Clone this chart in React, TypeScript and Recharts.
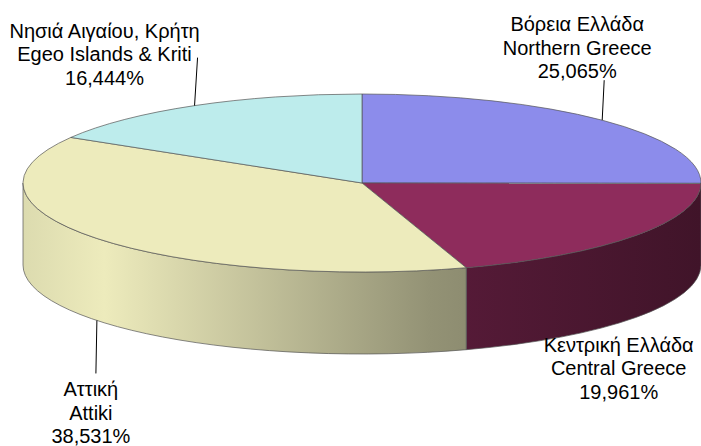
import { PieChart, Pie, Cell } from 'recharts';

// Περιφέρειες / regions, μερίδια σε %
const regionsEl = ['Βόρεια Ελλάδα', 'Κεντρική Ελλάδα', 'Αττική', 'Νησιά Αιγαίου, Κρήτη'];
const regionsEn = ['Northern Greece', 'Central Greece', 'Attiki', 'Egeo Islands & Kriti'];
const shares = [25.065, 19.961, 38.531, 16.444];
const colors = ['#8c8ceb', '#8e2c5c', '#edebbc', '#bdecec'];

const data = regionsEn.map((name, i) => ({ name, el: regionsEl[i], value: shares[i] }));

// 3D look
const TILT = 89 / 339;
const DEPTH = 82;
const LINE_H = 23.5;

// label placement relative to the slice anchor: text centre dx, first line dy, leader end dy
const LABEL_POS = [
  { dx: -25, dy: -96, lead: -40, ldx: 2 },
  { dx: -17, dy: 27, lead: 0, ldx: 0 },
  { dx: -6, dy: 69, lead: 53, ldx: -1 },
  { dx: -90, dy: -75, lead: -48, ldx: 3 },
];

const shade = (hex: string, k: number) => {
  const n = parseInt(hex.slice(1), 16);
  const c = [(n >> 16) & 255, (n >> 8) & 255, n & 255].map((v) => Math.max(0, Math.min(255, Math.round(v * k))));
  return `rgb(${c[0]},${c[1]},${c[2]})`;
};

const Slice3D = (props: any) => {
  const { cx, cy, outerRadius, startAngle, endAngle, fill, stroke } = props;
  const rx = outerRadius;
  const ry = outerRadius * TILT;
  const pt = (deg: number, dy = 0) => {
    const r = (deg * Math.PI) / 180;
    return `${cx + rx * Math.cos(r)},${cy - ry * Math.sin(r) + dy}`;
  };
  const hi = Math.max(startAngle, endAngle);
  const lo = Math.min(startAngle, endAngle);
  const large = hi - lo > 180 ? 1 : 0;
  const top = `M${cx},${cy} L${pt(hi)} A${rx},${ry} 0 ${large} 1 ${pt(lo)} Z`;

  const sides: string[] = [];
  for (let k = -2; k <= 2; k++) {
    const a = Math.max(lo, -180 + 360 * k);
    const b = Math.min(hi, 360 * k);
    if (b - a > 0.01) {
      sides.push(
        `M${pt(b)} A${rx},${ry} 0 0 1 ${pt(a)} L${pt(a, DEPTH)} A${rx},${ry} 0 0 0 ${pt(b, DEPTH)} Z`,
      );
    }
  }
  const gid = `side-${fill.slice(1)}`;

  return (
    <g>
      <defs>
        <linearGradient id={gid} gradientUnits="userSpaceOnUse" x1={cx - rx} y1={0} x2={cx + rx} y2={0}>
          <stop offset="0" stopColor={shade(fill, 0.93)} />
          <stop offset="0.12" stopColor={shade(fill, 1)} />
          <stop offset="0.6" stopColor={shade(fill, 0.62)} />
          <stop offset="1" stopColor={shade(fill, 0.45)} />
        </linearGradient>
      </defs>
      {sides.map((d, i) => (
        <path key={i} d={d} fill={`url(#${gid})`} stroke={stroke} strokeWidth={0.7} />
      ))}
      <path d={top} fill={fill} stroke={stroke} strokeWidth={0.7} />
    </g>
  );
};

const renderLabel = (props: any) => {
  const { cx, cy, midAngle, outerRadius, index } = props;
  const r = (midAngle * Math.PI) / 180;
  const front = Math.sin(r) < 0;
  const ax = cx + outerRadius * Math.cos(r);
  const ay = cy - outerRadius * TILT * Math.sin(r) + (front ? DEPTH : 0);
  const pos = LABEL_POS[index];
  const tx = ax + pos.dx;
  const ty = ay + pos.dy;
  const lines = [regionsEl[index], regionsEn[index], `${shares[index].toFixed(3).replace('.', ',')}%`];
  return (
    <g key={`lbl-${index}`}>
      {pos.lead !== 0 && (
        <line x1={ax} y1={ay} x2={ax + pos.ldx} y2={ay + pos.lead} stroke="#000" strokeWidth={1} />
      )}
      <text
        x={tx}
        y={ty}
        textAnchor="middle"
        fontFamily="'Liberation Sans', Arial, sans-serif"
        fontSize={20}
        fill="#000"
      >
        {lines.map((t, i) => (
          <tspan key={i} x={tx} y={ty + i * LINE_H} dominantBaseline="central">
            {t}
          </tspan>
        ))}
      </text>
    </g>
  );
};

export default function App() {
  return (
    <div style={{ position: 'absolute', left: 0, top: 0, background: '#fff' }}>
      <PieChart width={701} height={446} margin={{ top: 0, right: 0, bottom: 0, left: 0 }}>
        <Pie
          data={data}
          dataKey="value"
          nameKey="name"
          cx={362}
          cy={183}
          outerRadius={339}
          startAngle={90}
          endAngle={-270}
          stroke="#555"
          labelLine={false}
          label={renderLabel}
          shape={Slice3D}
          isAnimationActive={false}
        >
          {data.map((d, i) => (
            <Cell key={d.name} fill={colors[i]} />
          ))}
        </Pie>
      </PieChart>
    </div>
  );
}
